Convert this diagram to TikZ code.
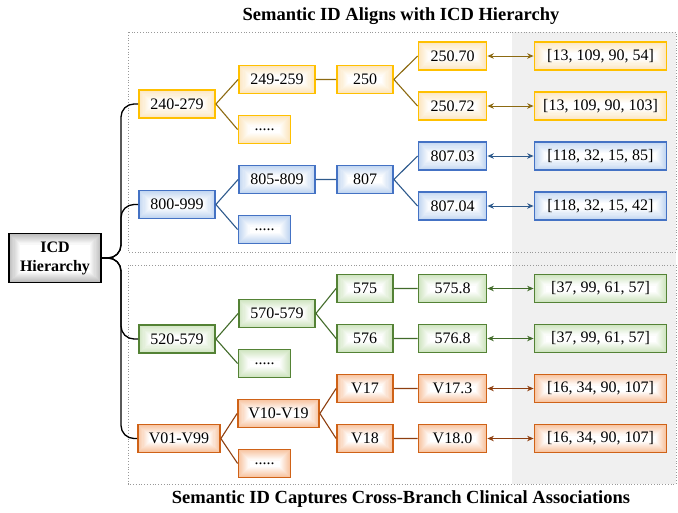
\documentclass[tikz,border=0pt]{standalone}
\usepackage{fontspec}
\setmainfont{Liberation Serif}
\usetikzlibrary{arrows.meta}

% palette
\definecolor{ybord}{HTML}{FFC000}\definecolor{yfill}{HTML}{FCE6C0}\definecolor{yline}{HTML}{8C6A12}
\definecolor{bbord}{HTML}{4472C4}\definecolor{bfill}{HTML}{C3D7F1}\definecolor{bline}{HTML}{2E5A8C}
\definecolor{gbord}{HTML}{548235}\definecolor{gfill}{HTML}{D0E5C2}\definecolor{gline}{HTML}{426B2A}
\definecolor{obord}{HTML}{CF6217}\definecolor{ofill}{HTML}{F8C6A4}\definecolor{oline}{HTML}{8E3F10}
\definecolor{rfill}{HTML}{BDBDBD}
\definecolor{panel}{HTML}{F0F0F0}

\tikzset{
  % tinted rim fading to a white centre
  glow/.style={path picture={
    \fill[#1] (path picture bounding box.south west) rectangle (path picture bounding box.north east);
    \foreach \k in {1,...,10}{
      \pgfmathtruncatemacro\mix{100-10*\k}
      \fill[#1!\mix!white]
        ([shift={(\k*1.1pt,-\k*1.1pt)}]path picture bounding box.north west) rectangle
        ([shift={(-\k*1.1pt,\k*1.1pt)}]path picture bounding box.south east);
    }}},
  box/.style={draw, line width=1.8pt, minimum height=28pt, inner sep=0pt,
    font=\fontsize{16}{18}\selectfont},
  ybox/.style={box, draw=ybord, glow=yfill},
  bbox/.style={box, draw=bbord, glow=bfill},
  gbox/.style={box, draw=gbord, glow=gfill},
  obox/.style={box, draw=obord, glow=ofill},
  wA/.style={minimum width=76pt}, wD/.style={minimum width=52pt},
  wC/.style={minimum width=56pt}, wL/.style={minimum width=68pt},
  wS/.style={minimum width=132pt},
  link/.style={line width=1.1pt},
  pair/.style={line width=1pt, {Stealth[length=6.5pt,width=5.5pt]}-{Stealth[length=6.5pt,width=5.5pt]}},
  frame/.style={draw=gray!80, line width=0.8pt, dotted},
  heading/.style={font=\bfseries\fontsize{18.5}{20}\selectfont},
}

\begin{document}
\begin{tikzpicture}[x=1pt,y=-1pt]
\useasboundingbox (0,0) rectangle (678,512);

% shaded column behind the semantic IDs, and the two dotted panels
\fill[panel] (512,32) rectangle (676,484);
\draw[frame] (128,32) rectangle (676,252);
\draw[frame] (128,265) rectangle (676,484);

\node[heading] (t1) at (401,16) {Semantic ID Aligns with ICD Hierarchy};
\node[heading] (t2) at (401,499) {Semantic ID Captures Cross-Branch Clinical Associations};

% root
\node[draw=black, line width=1.8pt, minimum width=92pt, minimum height=49pt, inner sep=0pt,
  glow=rfill, align=center,
  font=\bfseries\fontsize{16}{19}\selectfont] (icd) at (55,258) {ICD\\Hierarchy};

% yellow branch
\node[ybox,wA] (y1) at (177,104) {240-279};
\node[ybox,wA] (y2) at (277,79.5) {249-259};
\node[ybox,wD] (y2d) at (264.5,129.5) {.....};
\node[ybox,wC] (y3) at (365,79.5) {250};
\node[ybox,wL] (y4a) at (452.5,56) {250.70};
\node[ybox,wL] (y4b) at (452.5,106) {250.72};
\node[ybox,wS] (ysa) at (600.5,56) {[13, 109, 90, 54]};
\node[ybox,wS] (ysb) at (600.5,106) {[13, 109, 90, 103]};

% blue branch
\node[bbox,wA] (b1) at (177,204.5) {800-999};
\node[bbox,wA] (b2) at (277,179.5) {805-809};
\node[bbox,wD] (b2d) at (264.5,229.5) {.....};
\node[bbox,wC] (b3) at (365,179.5) {807};
\node[bbox,wL] (b4a) at (452.5,156) {807.03};
\node[bbox,wL] (b4b) at (452.5,206) {807.04};
\node[bbox,wS] (bsa) at (600.5,156) {[118, 32, 15, 85]};
\node[bbox,wS] (bsb) at (600.5,206) {[118, 32, 15, 42]};

% green branch
\node[gbox,wA] (g1) at (177,339) {520-579};
\node[gbox,wA] (g2) at (277,313.5) {570-579};
\node[gbox,wD] (g2d) at (264.5,363.5) {.....};
\node[gbox,wC] (g3a) at (365,288.5) {575};
\node[gbox,wC] (g3b) at (365,338.5) {576};
\node[gbox,wL] (g4a) at (452.5,288.5) {575.8};
\node[gbox,wL] (g4b) at (452.5,338.5) {576.8};
\node[gbox,wS] (gsa) at (600.5,288.5) {[37, 99, 61, 57]};
\node[gbox,wS] (gsb) at (600.5,338.5) {[37, 99, 61, 57]};

% orange branch
\node[obox,minimum width=82pt] (o1) at (179,438.5) {V01-V99};
\node[obox,minimum width=81pt] (o2) at (278.5,413.5) {V10-V19};
\node[obox,wD] (o2d) at (264.5,463.5) {.....};
\node[obox,wC] (o3a) at (365,388.5) {V17};
\node[obox,wC] (o3b) at (365,438.5) {V18};
\node[obox,wL] (o4a) at (452.5,388.5) {V17.3};
\node[obox,wL] (o4b) at (452.5,438.5) {V18.0};
\node[obox,wS] (osa) at (600.5,388.5) {[16, 34, 90, 107]};
\node[obox,wS] (osb) at (600.5,438.5) {[16, 34, 90, 107]};

% root bracket
\foreach \n in {y1,b1,g1,o1}
  \draw[line width=1.3pt, rounded corners=13pt] (icd.east) -- (121,258) |- (\n.west);

% tree links
\draw[link, yline] (y1.east) -- (y2.west) (y1.east) -- (y2d.west) (y2.east) -- (y3.west)
  (y3.east) -- (y4a.west) (y3.east) -- (y4b.west);
\draw[link, bline] (b1.east) -- (b2.west) (b1.east) -- (b2d.west) (b2.east) -- (b3.west)
  (b3.east) -- (b4a.west) (b3.east) -- (b4b.west);
\draw[link, gline] (g1.east) -- (g2.west) (g1.east) -- (g2d.west) (g2.east) -- (g3a.west)
  (g2.east) -- (g3b.west) (g3a.east) -- (g4a.west) (g3b.east) -- (g4b.west);
\draw[link, oline] (o1.east) -- (o2.west) (o1.east) -- (o2d.west) (o2.east) -- (o3a.west)
  (o2.east) -- (o3b.west) (o3a.east) -- (o4a.west) (o3b.east) -- (o4b.west);

% code <-> semantic ID
\draw[pair, yline] (y4a) -- (ysa); \draw[pair, yline] (y4b) -- (ysb);
\draw[pair, bline] (b4a) -- (bsa); \draw[pair, bline] (b4b) -- (bsb);
\draw[pair, gline] (g4a) -- (gsa); \draw[pair, gline] (g4b) -- (gsb);
\draw[pair, oline] (o4a) -- (osa); \draw[pair, oline] (o4b) -- (osb);
\end{tikzpicture}
\end{document}
